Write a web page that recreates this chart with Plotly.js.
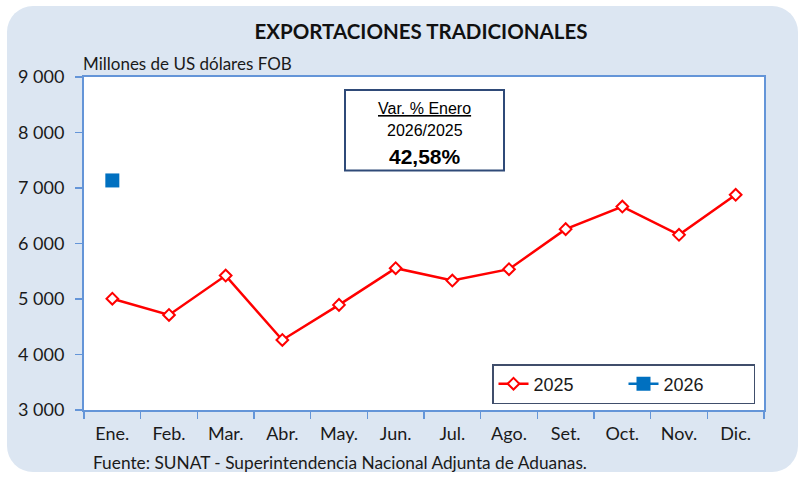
<!DOCTYPE html>
<html>
<head>
<meta charset="utf-8">
<script src="https://cdn.plot.ly/plotly-3.0.1.min.js"></script>
<style>
  html, body { margin: 0; padding: 0; background: #ffffff; }
  #wrap { position: relative; width: 803px; height: 477px; overflow: hidden; }
  #bg { position: absolute; left: 7px; top: 6px; width: 791px; height: 466px;
        border-radius: 26px; background: #dce6f2; }
  #chart { position: absolute; left: 0; top: 0; width: 803px; height: 477px; }
</style>
</head>
<body>
<div id="wrap"><div id="bg"></div><div id="chart"></div></div>
<script>
// ---- data ----
const months = ['Ene.', 'Feb.', 'Mar.', 'Abr.', 'May.', 'Jun.', 'Jul.', 'Ago.', 'Set.', 'Oct.', 'Nov.', 'Dic.'];
const exp2025 = [5005, 4713, 5422, 4262, 4894, 5555, 5332, 5537, 6259, 6666, 6156, 6877];
const months2026 = ['Ene.'];
const exp2026 = [7136];
const yTicks = [3000, 4000, 5000, 6000, 7000, 8000, 9000];
const chartTitle = 'EXPORTACIONES TRADICIONALES';
const unitLabel = 'Millones de US dólares FOB';
const sourceLabel = 'Fuente: SUNAT - Superintendencia Nacional Adjunta de Aduanas.';
const boxLines = ['Var. % Enero', '2026/2025', '42,58%'];

const calib = 'Lato, "Open Sans", sans-serif';
const arial = '"Liberation Sans", Arial, sans-serif';
const axisBlue = '#6495d8';

const traces = [
  {
    x: months, y: exp2025, name: '2025', type: 'scatter', mode: 'lines+markers',
    line: { color: '#ff0000', width: 2.5 },
    marker: { symbol: 'diamond', size: 9, color: '#ffffff', line: { color: '#ff0000', width: 2 } }
  },
  {
    x: months2026, y: exp2026, name: '2026', type: 'scatter', mode: 'lines+markers',
    line: { color: '#0070c0', width: 2.5 },
    marker: { symbol: 'square', size: 14, color: '#0070c0', line: { width: 0 } }
  }
];

const layout = {
  width: 803, height: 477,
  margin: { l: 84, r: 39, t: 77, b: 67 },
  paper_bgcolor: 'rgba(0,0,0,0)',
  plot_bgcolor: '#ffffff',
  separators: ', ',
  showlegend: true,
  title: {
    text: '<b>' + chartTitle + '</b>',
    font: { family: calib, size: 20.5, color: '#111111' },
    xref: 'paper', x: 0.4956, xanchor: 'center',
    yref: 'container', y: 1 - 32 / 477, yanchor: 'middle'
  },
  xaxis: {
    type: 'category', categoryorder: 'array', categoryarray: months,
    range: [-0.5, 11.5],
    showline: true, linecolor: axisBlue, linewidth: 2, mirror: true,
    ticks: 'outside', tickson: 'boundaries', ticklen: 7, tickcolor: axisBlue, tickwidth: 1.5,
    showgrid: false, zeroline: false,
    tickfont: { family: calib, size: 18, color: '#1a1a1a' },
    ticklabelstandoff: 6
  },
  yaxis: {
    range: [3000, 9000], tickvals: yTicks, tickformat: ',d',
    showline: true, linecolor: axisBlue, linewidth: 2, mirror: true,
    ticks: 'outside', ticklen: 7, tickcolor: axisBlue, tickwidth: 1.5,
    showgrid: false, zeroline: false,
    tickfont: { family: calib, size: 18, color: '#1a1a1a' },
    ticklabelstandoff: 7
  },
  legend: {
    orientation: 'h', x: (492 - 84) / 680, xanchor: 'left', y: 0.018, yanchor: 'bottom',
    bgcolor: '#ffffff', bordercolor: '#404e6b', borderwidth: 1.5,
    font: { family: arial, size: 18, color: '#1a1a1a' },
    entrywidth: 85
  },
  shapes: [
    { type: 'rect', xref: 'paper', yref: 'paper',
      x0: (345 - 84) / 680, x1: (504 - 84) / 680,
      y0: (410 - 170.5) / 333, y1: (410 - 90) / 333,
      line: { color: '#2f4a78', width: 2 }, fillcolor: '#ffffff', layer: 'above' }
  ],
  annotations: [
    { xref: 'paper', yref: 'paper', x: (81 - 84) / 680, xanchor: 'left', y: (410 - 63) / 333, yanchor: 'middle',
      text: unitLabel, showarrow: false, font: { family: calib, size: 17, color: '#1a1a1a' } },
    { xref: 'paper', yref: 'paper', x: (91 - 84) / 680, xanchor: 'left', y: (410 - 462) / 333, yanchor: 'middle',
      text: sourceLabel, showarrow: false, font: { family: calib, size: 17.3, color: '#1a1a1a' } },
    { xref: 'paper', yref: 'paper', x: (424.5 - 84) / 680, xanchor: 'center', y: (410 - 108.3) / 333, yanchor: 'middle',
      text: '<u>' + boxLines[0] + '</u>', showarrow: false, font: { family: arial, size: 16, color: '#000000' } },
    { xref: 'paper', yref: 'paper', x: (424.5 - 84) / 680, xanchor: 'center', y: (410 - 130.7) / 333, yanchor: 'middle',
      text: boxLines[1], showarrow: false, font: { family: arial, size: 16, color: '#000000' } },
    { xref: 'paper', yref: 'paper', x: (424.5 - 84) / 680, xanchor: 'center', y: (410 - 156) / 333, yanchor: 'middle',
      text: '<b>' + boxLines[2] + '</b>', showarrow: false, font: { family: arial, size: 21, color: '#000000' } }
  ]
};

Plotly.newPlot('chart', traces, layout, { staticPlot: true, displayModeBar: false });
</script>
</body>
</html>
